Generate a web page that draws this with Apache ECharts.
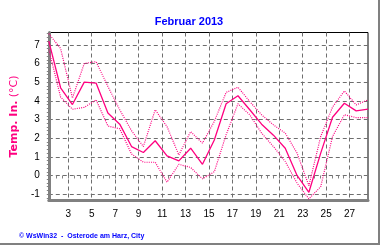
<!DOCTYPE html>
<html><head><meta charset="utf-8">
<script src="https://cdn.jsdelivr.net/npm/echarts@6/dist/echarts.min.js"></script>
<style>
html,body{margin:0;padding:0;background:#fff;}
#c{width:378px;height:243px;border-right:2px solid #808080;border-bottom:2px solid #808080;}
</style></head>
<body><div id="c"></div>
<script>
// Day of month (Februar 2013)
var days = [1,2,3,4,5,6,7,8,9,10,11,12,13,14,15,16,17,18,19,20,21,22,23,24,25,26,27,28];
// Inside temperature: daily mean, maximum, minimum (°C)
var tempAvg = [7.2,4.7,3.8,5.0,4.95,3.35,2.75,1.55,1.23,1.86,1.05,0.78,1.46,0.6,1.9,3.84,4.27,3.52,2.75,2.16,1.46,0.0,-0.9,1.2,3.12,3.87,3.46,3.55];
var tempMax = [7.6,6.8,4.15,6.0,6.1,4.77,3.52,2.4,1.55,3.52,2.62,1.1,2.35,1.73,2.9,4.45,4.73,3.96,3.25,2.71,2.27,1.2,-0.55,2.09,3.66,4.53,3.78,4.05];
var tempMin = [6.75,4.2,3.55,3.65,4.05,2.65,2.5,1.15,0.71,0.71,-0.36,0.6,0.43,-0.18,0.2,2.18,3.84,3.25,2.27,1.55,0.75,-0.41,-1.25,-0.6,2.09,3.25,3.1,3.1];
// Axis tick labels
var xTickLabels = [3,5,7,9,11,13,15,17,19,21,23,25,27];
var yTickLabels = [-1,0,1,2,3,4,5,6,7];

var xMinorTicks = [];
for (var t = 1.5; t <= 28.5; t += 0.5) xMinorTicks.push(t);
var yMinorTicks = [];
for (var u = -6; u <= 38; u++) yMinorTicks.push(u / 5);

function pts(arr){ return days.map(function(d,i){ return [d-1, arr[i]]; }); }

var pink = '#ff0080';
var chart = echarts.init(document.getElementById('c'), null, {renderer:'canvas'});
var gridLine = {show:true, lineStyle:{color:'#6e6e6e', width:1, type:[4,3]}};
chart.setOption({
  animation:false,
  backgroundColor:'#fff',
  title:[
    {text:'Februar 2013', left:'center', top:11,
     textStyle:{color:'#0000ff', fontSize:11, fontWeight:'bold', fontFamily:'Liberation Sans'}},
    {text:'\u00a9 WsWin32  -  Osterode am Harz, City', left:14, top:228,
     textStyle:{color:'#0000ff', fontSize:7, fontWeight:'bold', fontFamily:'Liberation Sans'}}
  ],
  grid:{left:46, top:32.5, right:10, height:168, show:true, borderColor:'#000', borderWidth:1, backgroundColor:'#fff'},
  xAxis:[
    {type:'value', min:0, max:27, show:false},
    {type:'value', min:1.335, max:28.57, position:'bottom',
     axisLine:{show:true, onZero:false, lineStyle:{color:'#808080', width:3}},
     axisTick:{show:false, customValues:xTickLabels},
     axisLabel:{customValues:xTickLabels, color:'#000', fontSize:10, fontFamily:'Liberation Sans', margin:9},
     splitLine:gridLine},
    {type:'value', min:1.335, max:28.57, position:'bottom',
     axisLine:{show:false},
     axisTick:{show:true, customValues:xMinorTicks, length:3, lineStyle:{color:'#808080', width:1}},
     axisLabel:{show:false}, splitLine:{show:false}}
  ],
  yAxis:[
    {type:'value', min:-1.34, max:7.66, position:'left',
     name:'{b|Temp. In.} {n|(\u00b0C)}', nameLocation:'middle', nameGap:27, nameRotate:90,
     nameTextStyle:{rich:{
       b:{color:pink, fontSize:11, fontWeight:'bold', fontFamily:'DejaVu Sans'},
       n:{color:pink, fontSize:11, fontFamily:'DejaVu Sans'}}},
     axisLine:{show:true, onZero:false, lineStyle:{color:'#808080', width:3}},
     axisTick:{show:false, customValues:yTickLabels},
     axisLabel:{customValues:yTickLabels, color:'#000', fontSize:10, fontFamily:'Liberation Sans', margin:9},
     splitLine:gridLine},
    {type:'value', min:-1.34, max:7.66, position:'left',
     axisLine:{show:false},
     axisTick:{show:true, customValues:yMinorTicks, length:2, lineStyle:{color:'#808080', width:1}},
     axisLabel:{show:false}, splitLine:{show:false}}
  ],
  series:[
    {name:'Max', type:'line', xAxisIndex:0, yAxisIndex:0, data:pts(tempMax), symbol:'none',
     lineStyle:{color:pink, width:1.2, type:[1,1.2]}},
    {name:'Min', type:'line', xAxisIndex:0, yAxisIndex:0, data:pts(tempMin), symbol:'none',
     lineStyle:{color:pink, width:1.2, type:[1,1.2]}},
    {name:'Mittel', type:'line', xAxisIndex:0, yAxisIndex:0, data:pts(tempAvg), symbol:'none',
     lineStyle:{color:pink, width:1.3}}
  ]
});
</script></body></html>
